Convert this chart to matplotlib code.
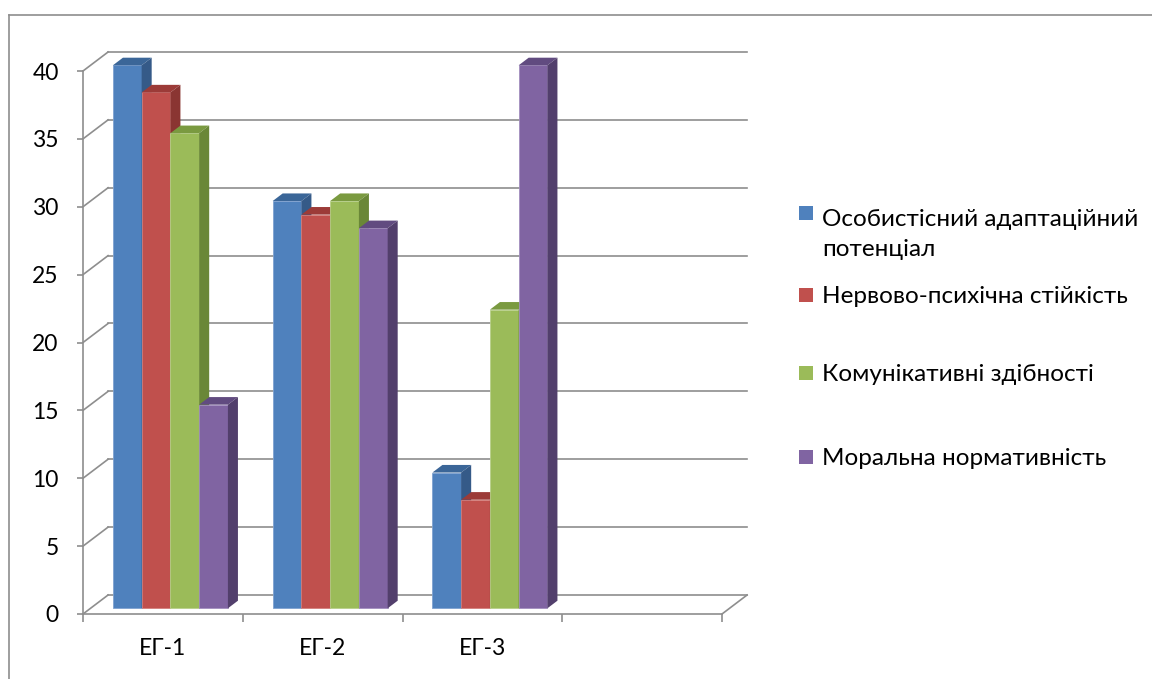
import numpy as np
import matplotlib.pyplot as plt
from matplotlib.patches import Polygon
from matplotlib.lines import Line2D

plt.rcParams['font.family'] = ['Lato', 'DejaVu Sans']

groups = ['ЕГ-1', 'ЕГ-2', 'ЕГ-3']
series = ['Особистісний адаптаційний\nпотенціал',
          'Нервово-психічна стійкість',
          'Комунікативні здібності',
          'Моральна нормативність']
values = [
    [40, 30, 10],   # адаптаційний потенціал
    [38, 29, 8],    # нервово-психічна стійкість
    [35, 30, 22],   # комунікативні здібності
    [15, 28, 40],   # моральна нормативність
]
front_colors = ['#4F81BD', '#C0504D', '#9BBB59', '#8064A2']
top_colors = ['#3B6698', '#9C3B38', '#7A9A40', '#614B80']
side_colors = ['#355A88', '#8A3532', '#6A8737', '#523F6C']
edge_colors = ['#7FA2D0', '#D47F7C', '#B8D08A', '#A38FBF']

n_slots = 4          # Excel keeps an empty fourth category slot
ymax = 40
step = 5

# oblique projection of the depth axis, in data units
DX, DY = 0.157, 1.40
bar_front = 0.3      # depth of the bar front faces
bar_depth = 0.4      # depth of the bars themselves
cluster = 0.72
w = cluster / len(series)

W, H = 1152, 679
fig = plt.figure(figsize=(W / 100, H / 100), dpi=100)
ax = fig.add_axes([83 / W, (H - 614) / H, (722 - 83) / W, (614 - 71) / H])
ax.set_xlim(0, n_slots)
ax.set_ylim(0, ymax)

grid_c = '#8E8E8E'
# back wall gridlines and left wall diagonals
for v in np.arange(0, ymax + 1, step):
    ax.plot([DX, n_slots + DX], [v + DY, v + DY], color=grid_c, lw=1.2,
            clip_on=False, zorder=1)
    ax.plot([0, DX], [v, v + DY], color=grid_c, lw=1.2, clip_on=False, zorder=1)
# right edge of the floor
ax.plot([n_slots, n_slots + DX], [0, DY], color=grid_c, lw=1.2, clip_on=False, zorder=1)

fx, fy = bar_front * DX, bar_front * DY
bx, by = bar_depth * DX, bar_depth * DY
for j in range(len(series)):
    x0 = np.arange(len(groups)) + (1 - cluster) / 2 + j * w + fx
    ax.bar(x0, values[j], width=w, bottom=fy, align='edge',
           color=front_colors[j], edgecolor=edge_colors[j], linewidth=0.6,
           zorder=3 + j, clip_on=False)
    for xi, v in zip(x0, values[j]):
        top = Polygon([(xi, v + fy), (xi + w, v + fy),
                       (xi + w + bx, v + fy + by), (xi + bx, v + fy + by)],
                      closed=True, facecolor=top_colors[j], edgecolor='none',
                      zorder=3 + j, clip_on=False)
        side = Polygon([(xi + w, fy), (xi + w, v + fy),
                        (xi + w + bx, v + fy + by), (xi + w + bx, fy + by)],
                       closed=True, facecolor=side_colors[j], edgecolor='none',
                       zorder=3 + j, clip_on=False)
        ax.add_patch(top)
        ax.add_patch(side)

for s in ['top', 'right']:
    ax.spines[s].set_visible(False)
for s in ['left', 'bottom']:
    ax.spines[s].set_color(grid_c)
    ax.spines[s].set_linewidth(1.2)
    ax.spines[s].set_zorder(2)

ax.set_yticks(np.arange(0, ymax + 1, step))
ax.tick_params(axis='y', length=4.5, width=1.2, color=grid_c, pad=13,
               labelsize=16.5, labelcolor='black')
ax.set_xticks(np.arange(n_slots + 1))
ax.set_xticklabels([])
ax.set_xticks(np.arange(len(groups)) + 0.5, minor=True)
ax.set_xticklabels(groups, minor=True)
ax.tick_params(axis='x', which='major', length=5.5, width=1.2, color=grid_c)
ax.tick_params(axis='x', which='minor', length=0, pad=17, labelsize=16.5,
               labelcolor='black')

# legend, drawn entry by entry in pixel positions (baseline of first line)
legend_y = [221, 303, 381, 465]
line_step = 35
for j, y in enumerate(legend_y):
    fig.patches.append(plt.Rectangle((799 / W, 1 - (y - 1) / H), 14 / W, 14 / H,
                                     transform=fig.transFigure,
                                     facecolor=front_colors[j], edgecolor='none'))
    last = y + line_step * series[j].count('\n')
    fig.text(822 / W, 1 - last / H, series[j], fontsize=17.5, va='baseline',
             ha='left', linespacing=1.5)

# chart area border (cut off at right and bottom)
fig.add_artist(Line2D([9 / W, 1], [1 - 15 / H, 1 - 15 / H],
                      transform=fig.transFigure, color=grid_c, lw=1.2))
fig.add_artist(Line2D([9 / W, 9 / W], [0, 1 - 15 / H],
                      transform=fig.transFigure, color=grid_c, lw=1.2))

fig.savefig('out.png', dpi=100)
